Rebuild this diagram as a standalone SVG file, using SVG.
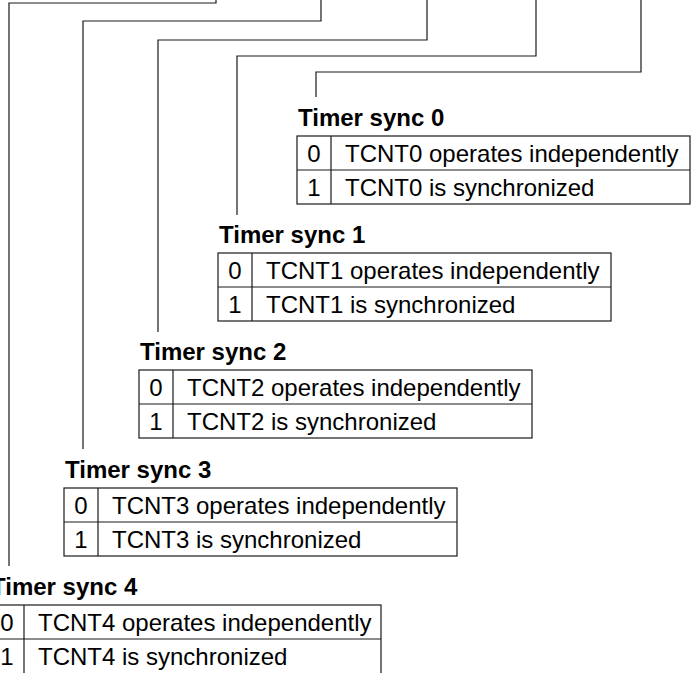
<svg xmlns="http://www.w3.org/2000/svg" width="698" height="673" viewBox="0 0 698 673">
<style>
.bg{fill:#fff}
.title{font-family:"Liberation Sans",Arial,sans-serif;font-weight:bold;font-size:24px;fill:#000}
.cell{font-family:"Liberation Sans",Arial,sans-serif;font-size:24px;fill:#000}
.dig{font-family:"Liberation Sans",Arial,sans-serif;font-size:24px;fill:#000;text-anchor:middle}
.tbl{fill:none;stroke:#1a1a1a;stroke-width:1.2}
.conn{fill:none;stroke:#1a1a1a;stroke-width:1.2}
</style>
<rect class="bg" x="0" y="0" width="698" height="673"/>
<g id="connectors">
<path class="conn" d="M641 0 V72 H316 V97"/>
<path class="conn" d="M536 0 V56 H237 V215"/>
<path class="conn" d="M427 0 V40 H158 V332"/>
<path class="conn" d="M321 0 V21 H83 V449"/>
<path class="conn" d="M216 0 V3 H9 V566"/>
</g>
<g id="node0" transform="translate(297,136)">
<text class="title" x="1" y="-10">Timer sync 0</text>
<rect class="tbl" x="0" y="0" width="393" height="68"/>
<path class="tbl" d="M0 34 H393 M34 0 V68"/>
<text class="dig" x="17" y="26">0</text>
<text class="cell" x="48" y="26">TCNT0 operates independently</text>
<text class="dig" x="17" y="60">1</text>
<text class="cell" x="48" y="60">TCNT0 is synchronized</text>
</g>
<g id="node1" transform="translate(218,253)">
<text class="title" x="1" y="-10">Timer sync 1</text>
<rect class="tbl" x="0" y="0" width="393" height="68"/>
<path class="tbl" d="M0 34 H393 M34 0 V68"/>
<text class="dig" x="17" y="26">0</text>
<text class="cell" x="48" y="26">TCNT1 operates independently</text>
<text class="dig" x="17" y="60">1</text>
<text class="cell" x="48" y="60">TCNT1 is synchronized</text>
</g>
<g id="node2" transform="translate(139,370)">
<text class="title" x="1" y="-10">Timer sync 2</text>
<rect class="tbl" x="0" y="0" width="393" height="68"/>
<path class="tbl" d="M0 34 H393 M34 0 V68"/>
<text class="dig" x="17" y="26">0</text>
<text class="cell" x="48" y="26">TCNT2 operates independently</text>
<text class="dig" x="17" y="60">1</text>
<text class="cell" x="48" y="60">TCNT2 is synchronized</text>
</g>
<g id="node3" transform="translate(64,488)">
<text class="title" x="1" y="-10">Timer sync 3</text>
<rect class="tbl" x="0" y="0" width="393" height="68"/>
<path class="tbl" d="M0 34 H393 M34 0 V68"/>
<text class="dig" x="17" y="26">0</text>
<text class="cell" x="48" y="26">TCNT3 operates independently</text>
<text class="dig" x="17" y="60">1</text>
<text class="cell" x="48" y="60">TCNT3 is synchronized</text>
</g>
<g id="node4" transform="translate(-10,605)">
<text class="title" x="1" y="-10">Timer sync 4</text>
<rect class="tbl" x="0" y="0" width="391" height="70"/>
<path class="tbl" d="M0 34 H391 M34 0 V70"/>
<text class="dig" x="17" y="26">0</text>
<text class="cell" x="48" y="26">TCNT4 operates independently</text>
<text class="dig" x="17" y="60">1</text>
<text class="cell" x="48" y="60">TCNT4 is synchronized</text>
</g>
</svg>
